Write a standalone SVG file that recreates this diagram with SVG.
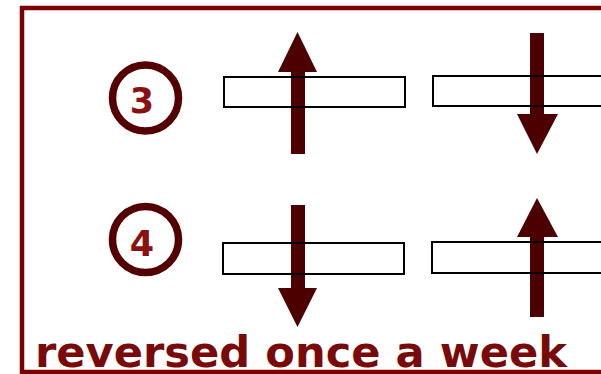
<svg xmlns="http://www.w3.org/2000/svg" width="601" height="374" viewBox="0 0 601 374">
  <style>
    .frame { fill: none; stroke: #7d0000; stroke-width: 4.5; }
    .badge circle { fill: #ffffff; stroke: #550000; stroke-width: 7.5; }
    .badge text { font-family: "DejaVu Sans", "Liberation Sans", sans-serif; font-weight: bold; font-size: 35px; fill: #8b1111; text-anchor: middle; }
    .bar { fill: none; stroke: #000000; stroke-width: 2; }
    .arrow { fill: #4d0000; }
    .caption { font-family: "DejaVu Sans", "Liberation Sans", sans-serif; font-weight: bold; font-size: 43px; fill: #7a0a0a; }
  </style>

  <rect class="frame" x="22" y="8" width="600" height="364"/>

  <!-- row labels -->
  <g id="badge-3" class="badge">
    <circle cx="145.5" cy="98" r="33"/>
    <text x="142" y="113">3</text>
  </g>
  <g id="badge-4" class="badge">
    <circle cx="145.5" cy="239.5" r="33"/>
    <text x="142" y="256">4</text>
  </g>

  <!-- direction arrows -->
  <g id="connectors">
    <g id="arrow-row3-left" class="arrow">
      <rect x="291" y="70" width="14" height="84"/>
      <polygon points="278,72 317,72 297.5,32"/>
    </g>
    <g id="arrow-row3-right" class="arrow">
      <rect x="530" y="33" width="14" height="83"/>
      <polygon points="517,114 558,114 537,154"/>
    </g>
    <g id="arrow-row4-left" class="arrow">
      <rect x="291" y="205" width="14" height="85"/>
      <polygon points="278,288 317,288 297.5,327"/>
    </g>
    <g id="arrow-row4-right" class="arrow">
      <rect x="530" y="235" width="14" height="82"/>
      <polygon points="517,237 558,237 537,198"/>
    </g>
  </g>

  <!-- bars (outlined, drawn over the arrows) -->
  <g id="bar-row3-left"><rect class="bar" x="224" y="77" width="181" height="30"/></g>
  <g id="bar-row3-right"><rect class="bar" x="433" y="76" width="180" height="30"/></g>
  <g id="bar-row4-left"><rect class="bar" x="223" y="243" width="181" height="31"/></g>
  <g id="bar-row4-right"><rect class="bar" x="432" y="242" width="181" height="31"/></g>

  <g id="caption">
    <text class="caption" x="35" y="367" textLength="532" lengthAdjust="spacingAndGlyphs">reversed once a week</text>
  </g>
</svg>
